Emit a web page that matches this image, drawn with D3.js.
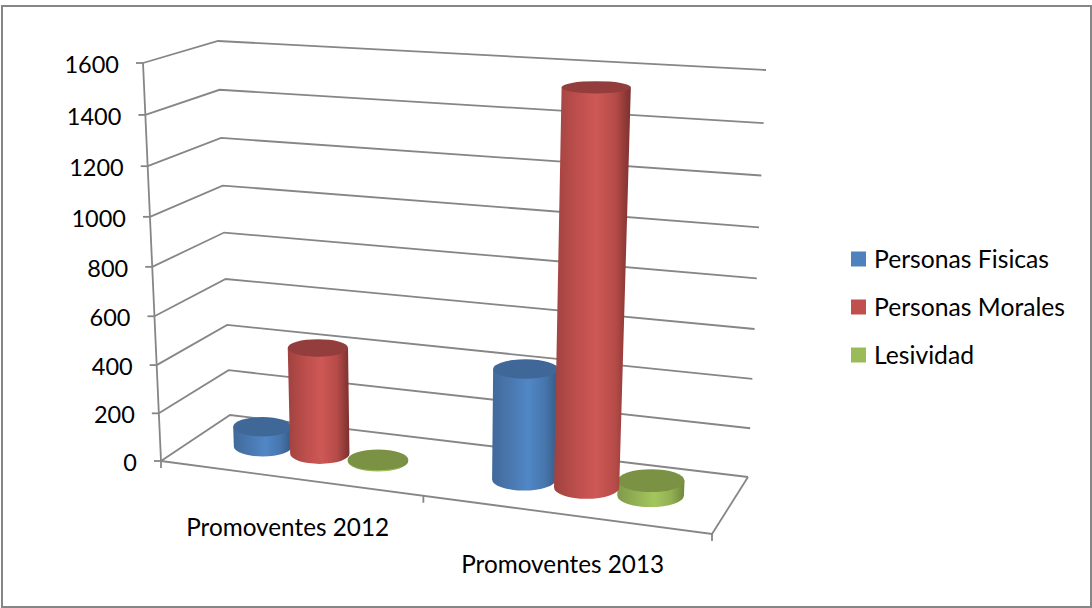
<!DOCTYPE html>
<html>
<head>
<meta charset="utf-8">
<script src="https://cdn.jsdelivr.net/npm/d3@7"></script>
<style>
  html, body { margin: 0; padding: 0; background: #fff; }
  svg { display: block; }
  text { font-family: Lato, "Open Sans", sans-serif; fill: #000; }
</style>
</head>
<body>
<svg id="chart"></svg>
<script>
// datos
var categories = ["Promoventes 2012", "Promoventes 2013"];
var seriesNames = ["Personas Fisicas", "Personas Morales", "Lesividad"];
var personasFisicas = [85, 450];
var personasMorales = [445, 1560];
var lesividad = [5, 60];
var yTicks = [0, 200, 400, 600, 800, 1000, 1200, 1400, 1600];
var seriesColors = ["#4f81bd", "#c0504d", "#9bbb59"];

var width = 1092;
var height = 608;

var svg = d3.select("#chart")
    .attr("width", width)
    .attr("height", height);

// esquinas de la caja 3D en pantalla
var box = {
  flb: [161, 461], frb: [712, 534], blb: [230, 415], brb: [748, 477],
  flt: [143, 63], frt: [732, 101], blt: [218, 41], brt: [766, 70]
};

// perspectiva: el lado derecho queda mas cerca
function warp(t, k) { return t / (t + k * (1 - t)); }

var xCat = d3.scaleBand().domain(categories).range([0, 1]);
var xSeries = d3.scaleBand().domain(seriesNames).range([0, xCat.bandwidth()])
    .paddingInner(0).paddingOuter(0.71);
var yValue = d3.scaleLinear().domain([0, 1600]).range([0, 1]);

function mix(a, b, t) { return [a[0] + (b[0] - a[0]) * t, a[1] + (b[1] - a[1]) * t]; }

// t: posicion horizontal 0-1, value: valor del eje, d: profundidad 0-1
function project(t, value, d) {
  var tx = warp(t, 1.10);
  var tv = warp(yValue(value), 1.05);
  var bottom = mix(mix(box.flb, box.frb, tx), mix(box.blb, box.brb, tx), d);
  var top = mix(mix(box.flt, box.frt, tx), mix(box.blt, box.brt, tx), d);
  return mix(bottom, top, tv);
}

var line = d3.line();
var gridColor = "#868686";

// gradientes de los cilindros
var defs = svg.append("defs");
var stops = [
  [["0%", "#41699a"], ["30%", "#4a79b1"], ["55%", "#5087c6"], ["80%", "#4776ad"], ["100%", "#355a86"]],
  [["0%", "#a04240"], ["30%", "#bd4f4c"], ["55%", "#ce5855"], ["80%", "#b54b48"], ["100%", "#7b302e"]],
  [["0%", "#7f9a49"], ["30%", "#94b355"], ["55%", "#a3c65c"], ["80%", "#92b054"], ["100%", "#6f8839"]]
];
var topColors = ["#3f6797", "#933e3c", "#7b9143"];
stops.forEach(function(s, i) {
  var g = defs.append("linearGradient").attr("id", "grad" + i);
  s.forEach(function(p) {
    g.append("stop").attr("offset", p[0]).attr("stop-color", p[1]);
  });
});

// paredes: lineas de cuadricula
var grid = svg.append("g").attr("fill", "none").attr("stroke", gridColor).attr("stroke-width", 1.8);

yTicks.forEach(function(v) {
  grid.append("path").attr("d", line([project(0, v, 0), project(0, v, 1), project(1, v, 1)]));
  var p = project(0, v, 0);
  grid.append("path").attr("d", line([[p[0] - 7, p[1]], p]));
});
grid.append("path").attr("d", line([project(0, 0, 0), project(0, 1600, 0)]));
grid.append("path").attr("d", line([project(0, 0, 0), project(1, 0, 0), project(1, 0, 1)]));

// marcas del eje de categorias
[0, 0.5, 1].forEach(function(t) {
  var p = project(t, 0, 0);
  grid.append("path").attr("d", line([p, [p[0], p[1] + 7]]));
});

// etiquetas del eje y
svg.append("g").selectAll("text")
  .data(yTicks)
  .enter().append("text")
  .attr("x", function(d) { return project(0, d, 0)[0] - 24; })
  .attr("y", function(d) { return project(0, d, 0)[1] + 1.5; })
  .attr("dy", "0.35em")
  .attr("text-anchor", "end")
  .style("font-size", "23.5px")
  .text(function(d) { return d; });

// etiquetas de categoria
svg.append("g").selectAll("text")
  .data(categories)
  .enter().append("text")
  .attr("x", function(d) { return project(xCat(d) + xCat.bandwidth() / 2, 0, 0)[0] - 1.5; })
  .attr("y", function(d) { return project(xCat(d) + xCat.bandwidth() / 2, 0, 0)[1] + 50; })
  .attr("dy", "0.35em")
  .attr("text-anchor", "middle")
  .style("font-size", "24.3px")
  .text(function(d) { return d; });

// cilindros
var seriesValues = [personasFisicas, personasMorales, lesividad];
var depthRadius = 0.21;
var drawOrder = [0, 2, 1];

function ellipseAt(t, value) {
  var half = xSeries.bandwidth() / 2 * 1.03;
  var c = project(t, value, 0.5);
  var rx = (project(t + half, value, 0.5)[0] - project(t - half, value, 0.5)[0]) / 2;
  var ry = (project(t, value, 0.5 - depthRadius)[1] - project(t, value, 0.5 + depthRadius)[1]) / 2;
  return { cx: c[0], cy: c[1], rx: rx, ry: ry };
}

categories.forEach(function(cat, c) {
  drawOrder.forEach(function(i) {
    var t = xCat(cat) + xSeries(seriesNames[i]) + xSeries.bandwidth() / 2;
    var base = ellipseAt(t, 0);
    var top = ellipseAt(t, seriesValues[i][c]);
    var body = "M" + (base.cx - base.rx) + "," + base.cy +
      "L" + (top.cx - top.rx) + "," + top.cy +
      "L" + (top.cx + top.rx) + "," + top.cy +
      "L" + (base.cx + base.rx) + "," + base.cy +
      "A" + base.rx + "," + base.ry + " 0 0 1 " + (base.cx - base.rx) + "," + base.cy + "Z";
    svg.append("path").attr("d", body).attr("fill", "url(#grad" + i + ")");
    svg.append("ellipse")
      .attr("cx", top.cx).attr("cy", top.cy)
      .attr("rx", top.rx).attr("ry", top.ry)
      .attr("fill", topColors[i]);
  });
});

// leyenda
var legend = svg.append("g");
var legendY = d3.scalePoint().domain(seriesNames).range([259, 355]);

legend.selectAll("rect")
  .data(seriesNames)
  .enter().append("rect")
  .attr("x", 851)
  .attr("y", function(d) { return legendY(d) - 7.5; })
  .attr("width", 15)
  .attr("height", 15)
  .style("fill", function(d, i) { return seriesColors[i]; });

legend.selectAll("text")
  .data(seriesNames)
  .enter().append("text")
  .attr("x", 874)
  .attr("y", function(d) { return legendY(d); })
  .attr("dy", "0.35em")
  .style("font-size", "24.7px")
  .text(function(d) { return d; });

// marco exterior
svg.append("rect")
  .attr("x", 2).attr("y", 6)
  .attr("width", 1089).attr("height", 601)
  .attr("fill", "none")
  .attr("stroke", "#868686")
  .attr("stroke-width", 2);
</script>
</body>
</html>
